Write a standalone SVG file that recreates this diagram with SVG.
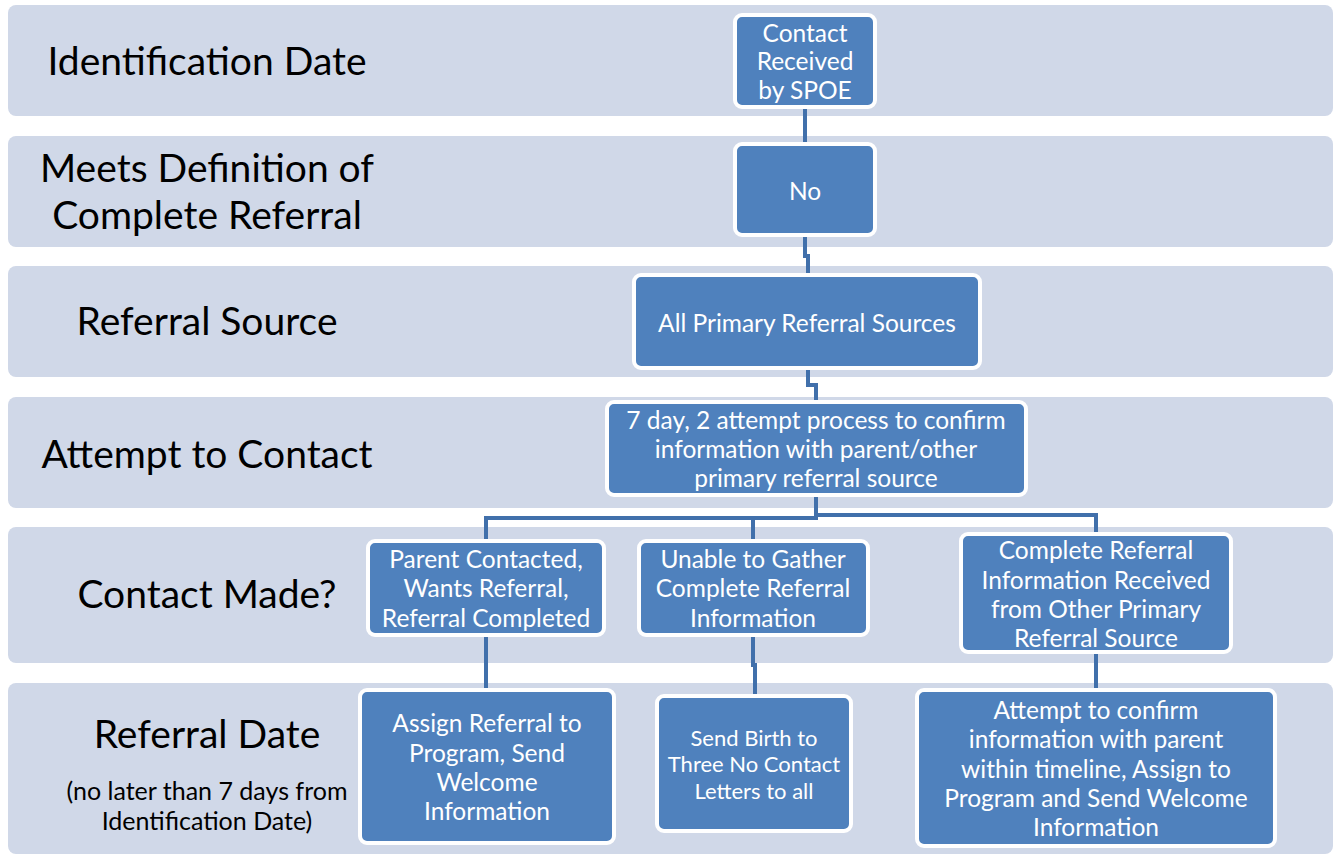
<svg xmlns="http://www.w3.org/2000/svg" width="1335" height="856" viewBox="0 0 1335 856">
<style>
.band{fill:#D0D8E8}
.lbl{font-family:Lato,"Liberation Sans",sans-serif;font-size:39px;fill:#000;text-anchor:middle;dominant-baseline:central}
.sub{font-family:Lato,"Liberation Sans",sans-serif;font-size:25px;fill:#000;text-anchor:middle;dominant-baseline:central}
.node rect{fill:#4F81BD;stroke:#FFFFFF;stroke-width:4}
.node text{font-family:Lato,"Liberation Sans",sans-serif;font-size:24.5px;fill:#FFFFFF;text-anchor:middle;dominant-baseline:central}
.node text.s{font-size:22px}
.conn path{fill:none;stroke:#4170AB;stroke-width:4}
</style>
<rect width="1335" height="856" fill="#FFFFFF"/>
<g id="bands">
<rect class="band" x="8" y="5" width="1325" height="111" rx="8"/>
<rect class="band" x="8" y="136" width="1325" height="111" rx="8"/>
<rect class="band" x="8" y="266" width="1325" height="111" rx="8"/>
<rect class="band" x="8" y="397" width="1325" height="111" rx="8"/>
<rect class="band" x="8" y="527" width="1325" height="136" rx="8"/>
<rect class="band" x="8" y="683" width="1325" height="171" rx="8"/>
<text class="lbl" x="207" y="60">Identification Date</text>
<text class="lbl" x="207" y="167">Meets Definition of</text>
<text class="lbl" x="207" y="214">Complete Referral</text>
<text class="lbl" x="207" y="320">Referral Source</text>
<text class="lbl" x="207" y="453">Attempt to Contact</text>
<text class="lbl" x="207" y="593">Contact Made?</text>
<text class="lbl" x="207" y="733">Referral Date</text>
<text class="sub" x="207" y="790">(no later than 7 days from</text>
<text class="sub" x="207" y="820">Identification Date)</text>
</g>
<g id="connectors" class="conn">
<path d="M805 109 V142"/>
<path d="M805 237 V256 H808 V275"/>
<path d="M808 370 V385 H816 V400"/>
<path d="M816 497 V518 H486 V539"/>
<path d="M816 515 H1096 V532"/>
<path d="M753 518 V539"/>
<path d="M486 637 V688"/>
<path d="M753 637 V665 H755 V694"/>
<path d="M1096 654 V688"/>
</g>
<g id="n1" class="node"><rect x="735" y="15" width="140" height="92" rx="7"/>
<text x="805" y="32">Contact</text><text x="805" y="60">Received</text><text x="805" y="89">by SPOE</text></g>
<g id="n2" class="node"><rect x="735" y="144" width="140" height="91" rx="7"/>
<text x="805" y="190">No</text></g>
<g id="n3" class="node"><rect x="634" y="275" width="346" height="93" rx="7"/>
<text x="807" y="322">All Primary Referral Sources</text></g>
<g id="n4" class="node"><rect x="607" y="402" width="419" height="93" rx="7"/>
<text x="816" y="419">7 day, 2 attempt process to confirm</text><text x="816" y="448">information with parent/other</text><text x="816" y="477">primary referral source</text></g>
<g id="n5a" class="node"><rect x="368" y="541" width="236" height="94" rx="7"/>
<text x="486" y="558">Parent Contacted,</text><text x="486" y="587">Wants Referral,</text><text x="486" y="617">Referral Completed</text></g>
<g id="n5b" class="node"><rect x="639" y="541" width="229" height="94" rx="7"/>
<text x="753" y="558">Unable to Gather</text><text x="753" y="587">Complete Referral</text><text x="753" y="617">Information</text></g>
<g id="n5c" class="node"><rect x="961" y="534" width="270" height="118" rx="7"/>
<text x="1096" y="549">Complete Referral</text><text x="1096" y="579">Information Received</text><text x="1096" y="608">from Other Primary</text><text x="1096" y="637">Referral Source</text></g>
<g id="n6a" class="node"><rect x="360" y="690" width="254" height="153" rx="7"/>
<text x="487" y="722">Assign Referral to</text><text x="487" y="752">Program, Send</text><text x="487" y="781">Welcome</text><text x="487" y="810">Information</text></g>
<g id="n6b" class="node"><rect x="657" y="696" width="194" height="135" rx="7"/>
<text class="s" x="754" y="737">Send Birth to</text><text class="s" x="754" y="763">Three No Contact</text><text class="s" x="754" y="790">Letters to all</text></g>
<g id="n6c" class="node"><rect x="917" y="690" width="358" height="156" rx="7"/>
<text x="1096" y="709">Attempt to confirm</text><text x="1096" y="738">information with parent</text><text x="1096" y="768">within timeline, Assign to</text><text x="1096" y="797">Program and Send Welcome</text><text x="1096" y="826">Information</text></g>
</svg>
